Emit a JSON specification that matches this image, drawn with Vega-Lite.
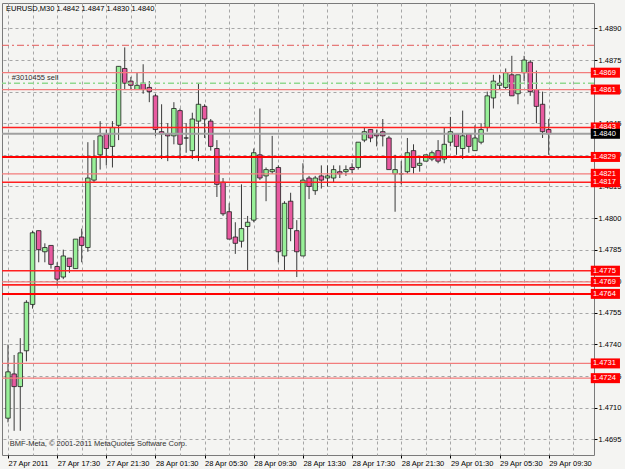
{
  "$schema": "https://vega.github.io/schema/vega-lite/v6.json",
  "width": 592,
  "height": 452,
  "autosize": "none",
  "padding": {"left": 2, "top": 3, "right": 31, "bottom": 14},
  "background": "#f4f4f2",
  "title": {"text": "EURUSD,M30  1.4842 1.4847 1.4830 1.4840", "anchor": "start", "frame": "group", "offset": -9, "dx": 4, "font": "Liberation Sans", "fontSize": 7.5, "fontWeight": "normal", "color": "#000000"},
  "datasets": {
    "candles": [
      {"i":0,"t":"04-27 13:30","o":1.4705,"h":1.4740,"l":1.4703,"c":1.4727},
      {"i":1,"t":"04-27 14:00","o":1.4726,"h":1.4735,"l":1.4699,"c":1.4720},
      {"i":2,"t":"04-27 14:30","o":1.4720,"h":1.4743,"l":1.4699,"c":1.4736},
      {"i":3,"t":"04-27 15:00","o":1.4737,"h":1.4761,"l":1.4732,"c":1.4760},
      {"i":4,"t":"04-27 15:30","o":1.4759,"h":1.4794,"l":1.4757,"c":1.4793},
      {"i":5,"t":"04-27 16:00","o":1.4794,"h":1.4794,"l":1.4779,"c":1.4785},
      {"i":6,"t":"04-27 16:30","o":1.4784,"h":1.4788,"l":1.4779,"c":1.4786},
      {"i":7,"t":"04-27 17:00","o":1.4787,"h":1.4787,"l":1.4776,"c":1.4778},
      {"i":8,"t":"04-27 17:30","o":1.4777,"h":1.4779,"l":1.4768,"c":1.4771},
      {"i":9,"t":"04-27 18:00","o":1.4772,"h":1.4785,"l":1.4771,"c":1.4782},
      {"i":10,"t":"04-27 18:30","o":1.4781,"h":1.4781,"l":1.4774,"c":1.4777},
      {"i":11,"t":"04-27 19:00","o":1.4776,"h":1.4790,"l":1.4776,"c":1.4790},
      {"i":12,"t":"04-27 19:30","o":1.4791,"h":1.4795,"l":1.4779,"c":1.4787},
      {"i":13,"t":"04-27 20:00","o":1.4786,"h":1.4836,"l":1.4784,"c":1.4819},
      {"i":14,"t":"04-27 20:30","o":1.4818,"h":1.4837,"l":1.4817,"c":1.4829},
      {"i":15,"t":"04-27 21:00","o":1.4830,"h":1.4846,"l":1.4823,"c":1.4839},
      {"i":16,"t":"04-27 21:30","o":1.4840,"h":1.4842,"l":1.4825,"c":1.4833},
      {"i":17,"t":"04-27 22:00","o":1.4834,"h":1.4846,"l":1.4824,"c":1.4843},
      {"i":18,"t":"04-27 22:30","o":1.4844,"h":1.4872,"l":1.4837,"c":1.4872},
      {"i":19,"t":"04-27 23:00","o":1.4871,"h":1.4881,"l":1.4861,"c":1.4864},
      {"i":20,"t":"04-27 23:30","o":1.4865,"h":1.4867,"l":1.4861,"c":1.4863},
      {"i":21,"t":"04-28 00:00","o":1.4861,"h":1.4869,"l":1.4861,"c":1.4863},
      {"i":22,"t":"04-28 00:30","o":1.4864,"h":1.4873,"l":1.4859,"c":1.4861},
      {"i":23,"t":"04-28 01:00","o":1.4862,"h":1.4865,"l":1.4855,"c":1.4860},
      {"i":24,"t":"04-28 01:30","o":1.4858,"h":1.4859,"l":1.4839,"c":1.4842},
      {"i":25,"t":"04-28 02:00","o":1.4841,"h":1.4854,"l":1.4828,"c":1.4840},
      {"i":26,"t":"04-28 02:30","o":1.4840,"h":1.4845,"l":1.4827,"c":1.4839},
      {"i":27,"t":"04-28 03:00","o":1.4839,"h":1.4855,"l":1.4835,"c":1.4852},
      {"i":28,"t":"04-28 03:30","o":1.4851,"h":1.4852,"l":1.4828,"c":1.4835},
      {"i":29,"t":"04-28 04:00","o":1.4838,"h":1.4845,"l":1.4831,"c":1.4838},
      {"i":30,"t":"04-28 04:30","o":1.4832,"h":1.4850,"l":1.4828,"c":1.4847},
      {"i":31,"t":"04-28 05:00","o":1.4846,"h":1.4864,"l":1.4827,"c":1.4854},
      {"i":32,"t":"04-28 05:30","o":1.4853,"h":1.4854,"l":1.4838,"c":1.4847},
      {"i":33,"t":"04-28 06:00","o":1.4846,"h":1.4847,"l":1.4832,"c":1.4834},
      {"i":34,"t":"04-28 06:30","o":1.4833,"h":1.4837,"l":1.4810,"c":1.4816},
      {"i":35,"t":"04-28 07:00","o":1.4817,"h":1.4819,"l":1.4801,"c":1.4802},
      {"i":36,"t":"04-28 07:30","o":1.4803,"h":1.4807,"l":1.4790,"c":1.4790},
      {"i":37,"t":"04-28 08:00","o":1.4791,"h":1.4798,"l":1.4783,"c":1.4788},
      {"i":38,"t":"04-28 08:30","o":1.4789,"h":1.4816,"l":1.4786,"c":1.4795},
      {"i":39,"t":"04-28 09:00","o":1.4796,"h":1.4801,"l":1.4775,"c":1.4798},
      {"i":40,"t":"04-28 09:30","o":1.4799,"h":1.4833,"l":1.4798,"c":1.4831},
      {"i":41,"t":"04-28 10:00","o":1.4830,"h":1.4852,"l":1.4818,"c":1.4819},
      {"i":42,"t":"04-28 10:30","o":1.4820,"h":1.4824,"l":1.4808,"c":1.4823},
      {"i":43,"t":"04-28 11:00","o":1.4822,"h":1.4839,"l":1.4821,"c":1.4823},
      {"i":44,"t":"04-28 11:30","o":1.4824,"h":1.4825,"l":1.4779,"c":1.4784},
      {"i":45,"t":"04-28 12:00","o":1.4782,"h":1.4808,"l":1.4775,"c":1.4807},
      {"i":46,"t":"04-28 12:30","o":1.4808,"h":1.4812,"l":1.4789,"c":1.4795},
      {"i":47,"t":"04-28 13:00","o":1.4794,"h":1.4799,"l":1.4772,"c":1.4784},
      {"i":48,"t":"04-28 13:30","o":1.4782,"h":1.4826,"l":1.4782,"c":1.4818},
      {"i":49,"t":"04-28 14:00","o":1.4819,"h":1.4820,"l":1.4809,"c":1.4815},
      {"i":50,"t":"04-28 14:30","o":1.4813,"h":1.4820,"l":1.4811,"c":1.4819},
      {"i":51,"t":"04-28 15:00","o":1.4820,"h":1.4825,"l":1.4814,"c":1.4818},
      {"i":52,"t":"04-28 15:30","o":1.4819,"h":1.4825,"l":1.4815,"c":1.4820},
      {"i":53,"t":"04-28 16:00","o":1.4819,"h":1.4825,"l":1.4817,"c":1.4823},
      {"i":54,"t":"04-28 16:30","o":1.4822,"h":1.4825,"l":1.4819,"c":1.4821},
      {"i":55,"t":"04-28 17:00","o":1.4822,"h":1.4825,"l":1.4820,"c":1.4823},
      {"i":56,"t":"04-28 17:30","o":1.4824,"h":1.4826,"l":1.4821,"c":1.4823},
      {"i":57,"t":"04-28 18:00","o":1.4824,"h":1.4836,"l":1.4823,"c":1.4836},
      {"i":58,"t":"04-28 18:30","o":1.4837,"h":1.4843,"l":1.4836,"c":1.4841},
      {"i":59,"t":"04-28 19:00","o":1.4842,"h":1.4842,"l":1.4836,"c":1.4838},
      {"i":60,"t":"04-28 19:30","o":1.4840,"h":1.4842,"l":1.4834,"c":1.4839},
      {"i":61,"t":"04-28 20:00","o":1.4841,"h":1.4847,"l":1.4834,"c":1.4839},
      {"i":62,"t":"04-28 20:30","o":1.4838,"h":1.4839,"l":1.4823,"c":1.4823},
      {"i":63,"t":"04-28 21:00","o":1.4821,"h":1.4830,"l":1.4803,"c":1.4823},
      {"i":64,"t":"04-28 21:30","o":1.4821,"h":1.4827,"l":1.4816,"c":1.4821},
      {"i":65,"t":"04-28 22:00","o":1.4822,"h":1.4838,"l":1.4821,"c":1.4831},
      {"i":66,"t":"04-28 22:30","o":1.4832,"h":1.4835,"l":1.4821,"c":1.4824},
      {"i":67,"t":"04-28 23:00","o":1.4825,"h":1.4829,"l":1.4822,"c":1.4826},
      {"i":68,"t":"04-28 23:30","o":1.4827,"h":1.4830,"l":1.4827,"c":1.4830},
      {"i":69,"t":"04-29 00:00","o":1.4828,"h":1.4832,"l":1.4827,"c":1.4831},
      {"i":70,"t":"04-29 00:30","o":1.4832,"h":1.4837,"l":1.4826,"c":1.4827},
      {"i":71,"t":"04-29 01:00","o":1.4828,"h":1.4843,"l":1.4826,"c":1.4835},
      {"i":72,"t":"04-29 01:30","o":1.4836,"h":1.4848,"l":1.4834,"c":1.4841},
      {"i":73,"t":"04-29 02:00","o":1.4840,"h":1.4840,"l":1.4830,"c":1.4834},
      {"i":74,"t":"04-29 02:30","o":1.4833,"h":1.4851,"l":1.4828,"c":1.4839},
      {"i":75,"t":"04-29 03:00","o":1.4840,"h":1.4840,"l":1.4831,"c":1.4834},
      {"i":76,"t":"04-29 03:30","o":1.4832,"h":1.4844,"l":1.4832,"c":1.4838},
      {"i":77,"t":"04-29 04:00","o":1.4836,"h":1.4845,"l":1.4835,"c":1.4842},
      {"i":78,"t":"04-29 04:30","o":1.4843,"h":1.4860,"l":1.4841,"c":1.4858},
      {"i":79,"t":"04-29 05:00","o":1.4857,"h":1.4868,"l":1.4852,"c":1.4865},
      {"i":80,"t":"04-29 05:30","o":1.4863,"h":1.4868,"l":1.4861,"c":1.4864},
      {"i":81,"t":"04-29 06:00","o":1.4862,"h":1.4871,"l":1.4861,"c":1.4869},
      {"i":82,"t":"04-29 06:30","o":1.4868,"h":1.4877,"l":1.4858,"c":1.4858},
      {"i":83,"t":"04-29 07:00","o":1.4859,"h":1.4868,"l":1.4854,"c":1.4868},
      {"i":84,"t":"04-29 07:30","o":1.4869,"h":1.4877,"l":1.4865,"c":1.4875},
      {"i":85,"t":"04-29 08:00","o":1.4874,"h":1.4875,"l":1.4858,"c":1.4860},
      {"i":86,"t":"04-29 08:30","o":1.4861,"h":1.4870,"l":1.4845,"c":1.4853},
      {"i":87,"t":"04-29 09:00","o":1.4854,"h":1.4860,"l":1.4838,"c":1.4841},
      {"i":88,"t":"04-29 09:30","o":1.4842,"h":1.4847,"l":1.4830,"c":1.4840}
    ],
    "levels": [
      {"price":1.4882,"kind":"tp"},
      {"price":1.4869,"kind":"soft","label":"1.4869"},
      {"price":1.4864,"kind":"order","label":"#3010455 sell"},
      {"price":1.4861,"kind":"soft","label":"1.4861"},
      {"price":1.4843,"kind":"thin","label":"1.4843"},
      {"price":1.4840,"kind":"bid","label":"1.4840"},
      {"price":1.4829,"kind":"thick","label":"1.4829"},
      {"price":1.4821,"kind":"soft","label":"1.4821"},
      {"price":1.4817,"kind":"thin","label":"1.4817"},
      {"price":1.4775,"kind":"thin","label":"1.4775"},
      {"price":1.47697,"kind":"soft","label":"1.4769"},
      {"price":1.47683,"kind":"thin"},
      {"price":1.4764,"kind":"thick","label":"1.4764"},
      {"price":1.4731,"kind":"soft","label":"1.4731"},
      {"price":1.4724,"kind":"soft","label":"1.4724"}
    ]
  },
  "layer": [
    {
      "data": {"name": "candles"},
      "mark": {"type": "rule", "color": "#3a3a3a", "strokeWidth": 1, "clip": true},
      "encoding": {
        "x": {"field": "i", "type": "quantitative", "title": null,
          "scale": {"domain": [-0.16, 94.56], "nice": false, "zero": false},
          "axis": {"values": [0,4,8,12,16,20,24,28,32,36,40,44,48,52,56,60,64,68,72,76,80,84,88,92],
            "tickCount": 40,
            "grid": true, "gridDash": [3,3], "gridColor": "#a6a6a6", "domain": false,
            "labelExpr": "datum.value % 8 == 0 ? ['27 Apr 2011','27 Apr 17:30','27 Apr 21:30','28 Apr 01:30','28 Apr 05:30','28 Apr 09:30','28 Apr 13:30','28 Apr 17:30','28 Apr 21:30','29 Apr 01:30','29 Apr 05:30','29 Apr 09:30'][datum.value/8] : ''",
            "labelAlign": "left", "labelBaseline": "top", "labelPadding": 1, "labelOverlap": false, "labelFlush": false, "labelBound": false,
            "labelFont": "Liberation Sans", "labelFontSize": 7.5, "labelColor": "#000000",
            "tickSize": 3, "tickColor": "#000000",
            "tickOpacity": {"condition": {"test": "datum.value % 8 == 0", "value": 1}, "value": 0}}},
        "y": {"field": "l", "type": "quantitative", "title": null,
          "scale": {"domain": [1.46899, 1.48997], "nice": false, "zero": false},
          "axis": {"orient": "right", "values": [1.4695,1.4710,1.4725,1.4740,1.4755,1.4770,1.4785,1.4800,1.4815,1.4830,1.4845,1.4860,1.4875,1.4890],
            "tickCount": 30,
            "format": ".4f", "grid": true, "gridDash": [3,3], "gridColor": "#a6a6a6", "domain": false,
            "labelFont": "Liberation Sans", "labelFontSize": 7.5, "labelColor": "#000000", "labelPadding": 1, "labelOverlap": false, "labelBound": false, "labelFlush": false, "labelBaseline": "middle",
            "tickSize": 3, "tickColor": "#000000"}},
        "y2": {"field": "h"}
      }
    },
    {
      "data": {"name": "candles"},
      "mark": {"type": "bar", "size": 4.5, "stroke": "#1e1e1e", "strokeWidth": 0.8, "clip": true},
      "encoding": {
        "x": {"field": "i", "type": "quantitative", "title": null},
        "y": {"field": "o", "type": "quantitative", "title": null},
        "y2": {"field": "c"},
        "color": {"condition": {"test": "datum.c >= datum.o", "value": "#98f098"}, "value": "#e85aa0"}
      }
    },
    {
      "data": {"name": "levels"},
      "mark": {"type": "rule", "clip": true},
      "encoding": {
        "y": {"field": "price", "type": "quantitative", "title": null},
        "color": {"field": "kind", "type": "nominal", "legend": null,
          "scale": {"domain": ["tp","soft","order","thin","bid","thick"], "range": ["#e25a5a","#f27c7c","#90d890","#ff2020","#a0a0a0","#ff0000"]}},
        "strokeWidth": {"field": "kind", "type": "nominal", "legend": null,
          "scale": {"domain": ["tp","soft","order","thin","bid","thick"], "range": [1, 2, 1, 1, 1, 4]}},
        "strokeDash": {"field": "kind", "type": "nominal", "legend": null,
          "scale": {"domain": ["tp","soft","order","thin","bid","thick"], "range": [[7,3,2,3],[1,0],[6,3,2,3],[1,0],[1,0],[1,0]]}}
      }
    },
    {
      "data": {"name": "levels"},
      "transform": [{"filter": "datum.label != null && datum.kind != 'order'"}],
      "mark": {"type": "bar", "orient": "horizontal", "size": 10},
      "encoding": {
        "y": {"field": "price", "type": "quantitative", "title": null},
        "x": {"datum": 94.85, "type": "quantitative", "title": null},
        "x2": {"datum": 99.6},
        "color": {"condition": {"test": "datum.kind == 'bid'", "value": "#000000"}, "value": "#ff0000"}
      }
    },
    {
      "data": {"name": "levels"},
      "transform": [{"filter": "datum.label != null && datum.kind != 'order'"}],
      "mark": {"type": "text", "align": "left", "baseline": "middle", "font": "Liberation Sans", "fontSize": 7.5, "color": "#ffffff"},
      "encoding": {
        "y": {"field": "price", "type": "quantitative", "title": null},
        "x": {"datum": 95.2, "type": "quantitative", "title": null},
        "text": {"field": "label"}
      }
    },
    {
      "data": {"name": "levels"},
      "transform": [{"filter": "datum.kind == 'order'"}],
      "mark": {"type": "text", "align": "left", "baseline": "bottom", "dy": -1.5, "font": "Liberation Sans", "fontSize": 7.5, "color": "#303030"},
      "encoding": {
        "y": {"field": "price", "type": "quantitative", "title": null},
        "x": {"datum": 0.6, "type": "quantitative", "title": null},
        "text": {"field": "label"}
      }
    },
    {
      "data": {"values": [{"note": "BMF-Meta, © 2001-2011 MetaQuotes Software Corp."}]},
      "mark": {"type": "text", "align": "left", "baseline": "middle", "font": "Liberation Sans", "fontSize": 7.5, "color": "#303030"},
      "encoding": {
        "y": {"datum": 1.46927, "type": "quantitative", "title": null},
        "x": {"datum": 0.3, "type": "quantitative", "title": null},
        "text": {"field": "note"}
      }
    }
  ],
  "config": {
    "view": {"stroke": "#7a7a7a", "fill": "#f4f4f2"},
    "axis": {"titlePadding": 0}
  }
}
